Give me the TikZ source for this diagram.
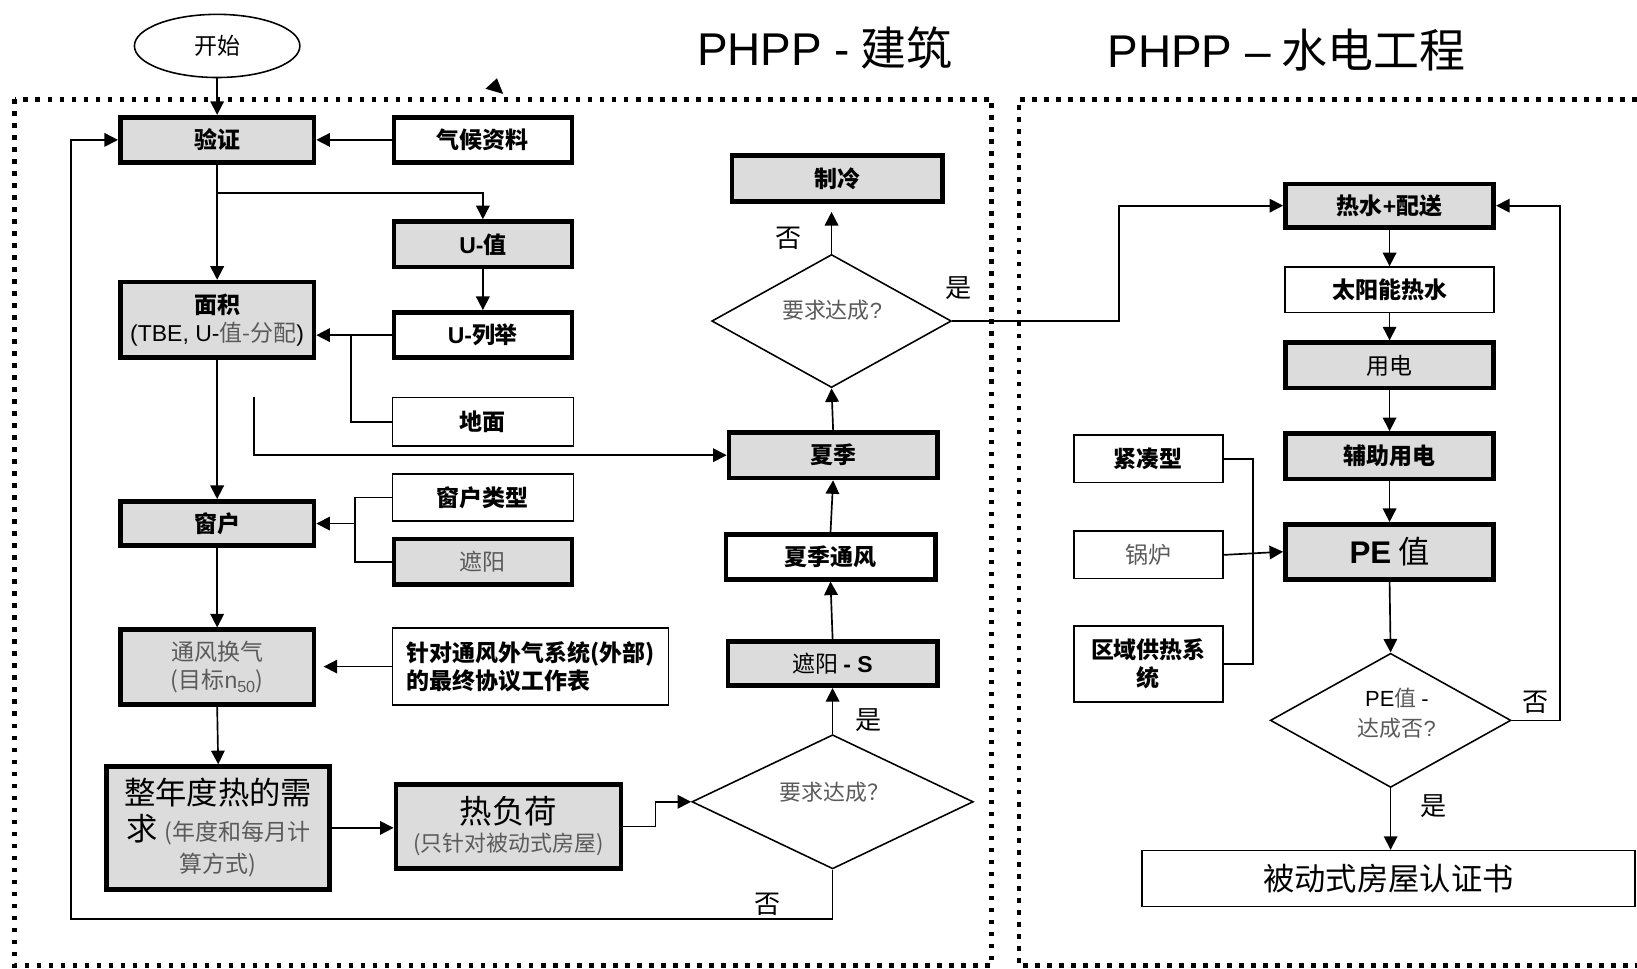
\documentclass[tikz,border=0pt]{standalone}
\usepackage{fontspec}
\setmainfont{Noto Sans CJK SC}
\newfontfamily\lat{Liberation Sans}
\usetikzlibrary{arrows.meta,shapes.geometric,calc}
\definecolor{boxgray}{HTML}{DCDCDC}
\definecolor{txtgray}{HTML}{5A5A5A}
\begin{document}
\begin{tikzpicture}[x=1pt,y=-1pt,
  tk/.style={draw, line width=4.5pt, inner sep=2pt, align=center, font=\fontsize{22}{27}\selectfont},
  tn/.style={draw, line width=1.5pt, inner sep=2pt, align=center, font=\fontsize{22}{27}\selectfont},
  gfill/.style={fill=boxgray},
  sz/.style 2 args={minimum width=#1pt, minimum height=#2pt},
  dia/.style={draw, diamond, line width=1.5pt, inner sep=0pt},
  gt/.style={text=txtgray},
  lab/.style={font=\fontsize{25}{28}\selectfont, inner sep=0pt},
  ttl/.style={font=\fontsize{44}{50}\selectfont, inner sep=0pt},
  arr/.style={-{Triangle[length=13pt,width=13pt]}, line width=1.6pt},
  ln/.style={line width=1.6pt},
  frame/.style={line width=4.5pt, dash pattern=on 4.5pt off 7pt}
]
\useasboundingbox (0,0) rectangle (1568,928);

% frames
\draw[frame] (14,95) rectangle (950,925);
\draw[frame] (1568,95) -- (976,95) -- (976,925) -- (1568,925);
\fill (476,75) -- (465,85) -- (482,90) -- cycle;

% titles
\node[ttl] (t1) at (790,46) {{\lat PHPP -} 建筑};
\node[ttl] (t2) at (1232,48) {{\lat PHPP –} 水电工程};

% start
\node[draw, ellipse, line width=1.5pt, minimum width=158.5pt, minimum height=60.5pt, inner sep=0pt, font=\fontsize{22}{26}\selectfont] (st) at (208,44) {开始};

% left column
\node[tk, gfill, sz={185.5}{43.5}, font=\fontsize{22}{27}\selectfont\bfseries] (yz) at (208,134) {验证};
\node[tk, sz={170.5}{43.5}, font=\fontsize{22}{27}\selectfont\bfseries] (qh) at (462.5,134) {气候资料};
\node[tk, gfill, sz={170.5}{43.5}, font=\fontsize{22}{27}\selectfont\bfseries] (uz) at (462.5,234) {{\lat U-}值};
\node[tk, sz={170.5}{43.5}, font=\fontsize{22}{27}\selectfont\bfseries] (ul) at (462.5,321) {{\lat U-}列举};
\node[tk, gfill, sz={185.5}{72.5}] (mj) at (208,306.5) {{\bfseries 面积}\\{\lat (TBE, U-}{\color{txtgray}值-分配}{\lat )}};
\node[tn, sz={173.5}{46.5}, font=\fontsize{22}{27}\selectfont\bfseries] (dm) at (462.5,404) {地面};
\node[tk, gfill, sz={185.5}{42.5}, font=\fontsize{22}{27}\selectfont\bfseries] (ch) at (208,501.5) {窗户};
\node[tn, sz={173.5}{45.5}, font=\fontsize{22}{27}\selectfont\bfseries] (ck) at (462.5,476.5) {窗户类型};
\node[tk, gfill, gt, sz={170.5}{43.5}] (zy) at (462.5,538) {遮阳};
\node[tk, gfill, gt, sz={185.5}{71.5}] (tf) at (208,639) {通风换气\\({目标}{\lat n\textsubscript{50}})};
\node[tn, sz={264.5}{73.5}, align=left, font=\fontsize{22}{27}\selectfont\bfseries] (zd) at (508,638.5) {针对通风外气系统(外部)\\的最终协议工作表};
\node[tk, gfill, sz={213.5}{117.5}, font=\fontsize{30}{34}\selectfont] (zn) at (209,793) {整年度热的需\\求 {\fontsize{22}{25}\selectfont\color{txtgray}(年度和每月计}\\[-3pt]{\fontsize{22}{25}\selectfont\color{txtgray}算方式)}};
\node[tk, gfill, sz={215.5}{80.5}] (rf) at (487,791.5) {{\fontsize{31}{34}\selectfont 热负荷}\\{\fontsize{21}{25}\selectfont\color{txtgray}(只针对被动式房屋)}};

% middle column
\node[dia, minimum width=269.5pt, minimum height=128.5pt] (d1) at (797.5,768) {};
\node[gt, inner sep=0pt, font=\fontsize{21}{25}\selectfont] (d1t) at (799,759) {要求达成？};
\node[tk, gfill, sz={200.5}{42.5}] (zs) at (797.5,635.5) {遮阳 {\lat\bfseries - S}};
\node[tk, sz={200.5}{42.5}, font=\fontsize{22}{27}\selectfont\bfseries] (xt) at (795.5,533.5) {夏季通风};
\node[tk, gfill, sz={199.5}{43.5}, font=\fontsize{22}{27}\selectfont\bfseries] (xj) at (798,436) {夏季};
\node[dia, minimum width=229.5pt, minimum height=127.5pt] (d2) at (796.5,307.5) {};
\node[gt, inner sep=0pt, font=\fontsize{21}{25}\selectfont] (d2t) at (797,297) {要求达成{\lat ?}};
\node[tk, gfill, sz={201.5}{43.5}, font=\fontsize{22}{27}\selectfont\bfseries] (zl) at (802,171) {制冷};

% right column
\node[tk, gfill, sz={199.5}{41.5}, font=\fontsize{22}{27}\selectfont\bfseries] (rs) at (1331,197) {热水{\lat +}配送};
\node[tn, sz={200.5}{43.5}, font=\fontsize{22}{27}\selectfont\bfseries] (ty) at (1331,277.5) {太阳能热水};
\node[tk, gfill, sz={199.5}{43.5}] (yd) at (1331,350) {用电};
\node[tk, gfill, sz={199.5}{43.5}, font=\fontsize{22}{27}\selectfont\bfseries] (fz) at (1331,437) {辅助用电};
\node[tk, gfill, sz={199.5}{52.5}, font=\fontsize{30}{34}\selectfont] (pe) at (1331,528.5) {{\lat\bfseries PE} 值};
\node[tn, sz={142.5}{45.5}, font=\fontsize{22}{27}\selectfont\bfseries] (jc) at (1100,439.5) {紧凑型};
\node[tn, gt, sz={142.5}{45.5}] (gl) at (1100,531.5) {锅炉};
\node[tn, sz={142.5}{72.5}, font=\fontsize{22}{27}\selectfont\bfseries] (qy) at (1100,636) {区域供热系\\统};
\node[dia, minimum width=230.5pt, minimum height=128.5pt] (d3) at (1332,690) {};
\node[inner sep=0pt, align=center, font=\fontsize{21}{29}\selectfont] (d3t) at (1338,683) {{\lat PE}{\color{txtgray}值} {\lat -}\\{\color{txtgray}达成否{\lat ?}}};
\node[tn, sz={472.5}{53.5}, font=\fontsize{30}{34}\selectfont] (rz) at (1330,841.5) {被动式房屋认证书};

% labels
\node[lab] (l1) at (755,228) {否};
\node[lab] (l2) at (918,276) {是};
\node[lab] (l3) at (832,690) {是};
\node[lab] (l4) at (735,866) {否};
\node[lab] (l5) at (1471,673) {否};
\node[lab] (l6) at (1373,772) {是};

% helper coordinates
\coordinate (b1) at (208,185);
\coordinate (j1) at (336,321);
\coordinate (s1) at (243,380);
\coordinate (j2) at (340,501.5);
\coordinate (c1) at (68,880);
\coordinate (c2) at (1072,307.5);
\coordinate (j3) at (1200,636);
\coordinate (c3) at (1494,690);

% connectors left
\draw[arr] (st.south) -- (yz.north);
\draw[arr] (qh.west) -- (yz.east);
\draw[arr] (yz.south) -- (mj.north);
\draw[arr] (b1) -| (uz.north);
\draw[arr] (uz.south) -- (ul.north);
\draw[arr] (ul.west) -- (mj.east |- ul.west);
\draw[ln] (dm.west) -| (j1);
\draw[arr] (s1) |- (xj.west);
\draw[arr] (mj.south) -- (ch.north);
\draw[ln] (ck.west) -| (j2);
\draw[ln] (zy.west) -| (j2);
\draw[arr] (j2) -- (ch.east);
\draw[arr] (ch.south) -- (tf.north);
\draw[arr, shorten >=7pt] (zd.west) -- (tf.east |- zd.west);
\draw[arr] (tf.south) -- (zn.north);
\draw[arr] (zn.east) -- (zn.east -| rf.west);
\draw[arr] (rf.east) -- ++(31,0) |- (d1.west);
\draw[arr] (d1.south) |- (c1) |- (yz.west);

% connectors middle
\draw[arr] (d1.north) -- (zs.south);
\draw[arr] (zs.north) -- (xt.south);
\draw[arr] (xt.north) -- (xj.south);
\draw[arr] (xj.north) -- (d2.south);
\draw[arr, shorten >=8pt] (d2.north) -- (d2.north |- zl.south);
\draw[arr] (d2.east) -- (c2) |- (rs.west);

% connectors right
\draw[arr] (rs.south) -- (ty.north);
\draw[arr] (ty.south) -- (yd.north);
\draw[arr] (yd.south) -- (fz.north);
\draw[arr] (fz.south) -- (pe.north);
\draw[ln] (jc.east) -| (j3) -- (qy.east);
\draw[arr] (gl.east) -- (pe.west);
\draw[arr] (pe.south) -- (d3.north);
\draw[arr] (d3.east) -- (c3) |- (rs.east);
\draw[arr] (d3.south) -- (d3.south |- rz.north);
\end{tikzpicture}
\end{document}
